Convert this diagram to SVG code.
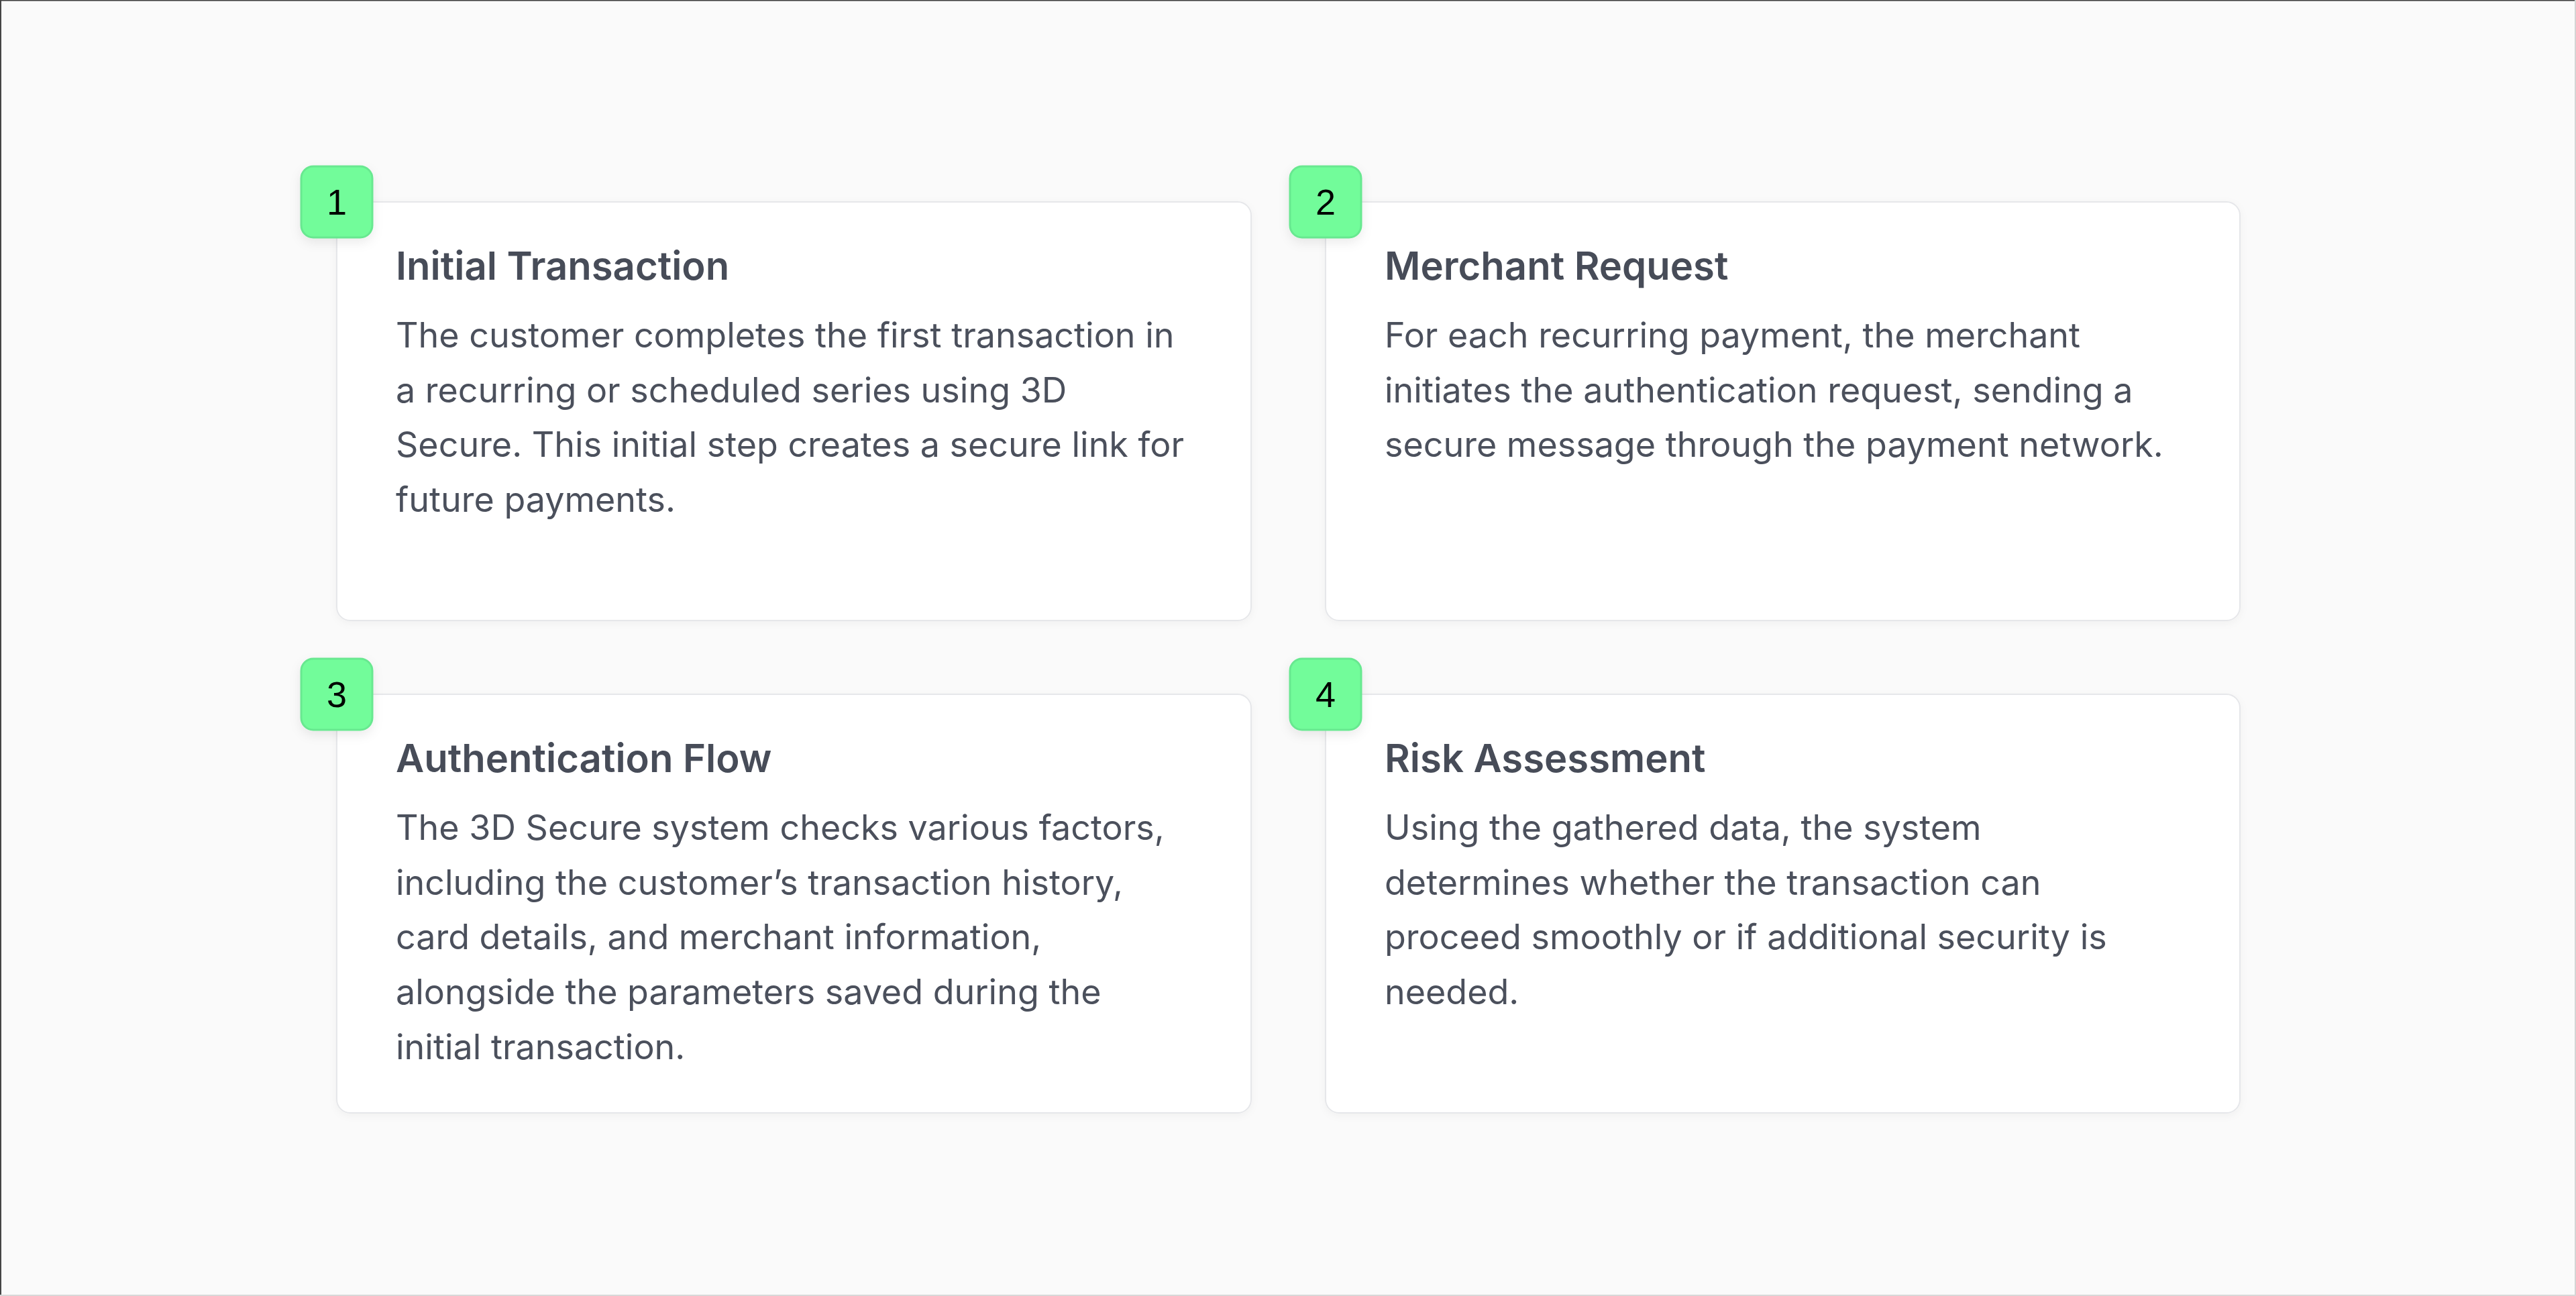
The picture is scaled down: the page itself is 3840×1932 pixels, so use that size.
<svg xmlns="http://www.w3.org/2000/svg" width="3840" height="1932" viewBox="0 0 3840 1932">
<defs>
<filter id="cardShadow" x="-5%" y="-5%" width="110%" height="115%">
<feDropShadow dx="0" dy="3" stdDeviation="6" flood-color="#000" flood-opacity="0.04"/>
</filter>
<filter id="badgeShadow" x="-30%" y="-30%" width="160%" height="160%">
<feDropShadow dx="0" dy="6" stdDeviation="8" flood-color="#000" flood-opacity="0.08"/>
</filter>
</defs>
<style>
.card{fill:#ffffff;stroke:#e6e7ea;stroke-width:2;filter:url(#cardShadow);}
.badge{fill:#72fc9a;stroke:#68e890;stroke-width:3;filter:url(#badgeShadow);}
.num{font-family:"Liberation Sans",Arial,sans-serif;font-size:54px;fill:#000;text-anchor:middle;}
.title{font-family:Inter,"Noto Sans",sans-serif;font-weight:600;font-size:58px;fill:#474c58;}
.body{font-family:Inter,"Noto Sans",sans-serif;font-weight:400;font-size:52px;fill:#4b505c;}
</style>
<rect x="0" y="0" width="3840" height="1932" fill="#fafafa"/>
<rect x="0" y="0" width="3840" height="1.5" fill="#3c3c3c"/>
<rect x="0" y="0" width="2" height="1932" fill="#454545"/>
<rect x="3838" y="0" width="2" height="1932" fill="#d4d4d4"/>
<rect x="0" y="1930" width="3840" height="2" fill="#d8d8d8"/>

<g id="connectors"></g>

<g id="step1">
<rect class="card" x="502" y="301" width="1363" height="624" rx="20"/>
<text class="title" x="590" y="417">Initial Transaction</text>
<text class="body" x="590" y="518">The customer completes the first transaction in</text>
<text class="body" x="590" y="600">a recurring or scheduled series using 3D</text>
<text class="body" x="590" y="681">Secure. This initial step creates a secure link for</text>
<text class="body" x="590" y="763">future payments.</text>
<rect class="badge" x="449" y="248" width="106" height="106" rx="18"/>
<text class="num" x="502" y="320">1</text>
</g>

<g id="step2">
<rect class="card" x="1976" y="301" width="1363" height="624" rx="20"/>
<text class="title" x="2064" y="417">Merchant Request</text>
<text class="body" x="2064" y="518">For each recurring payment, the merchant</text>
<text class="body" x="2064" y="600">initiates the authentication request, sending a</text>
<text class="body" x="2064" y="681">secure message through the payment network.</text>
<rect class="badge" x="1923" y="248" width="106" height="106" rx="18"/>
<text class="num" x="1976" y="320">2</text>
</g>

<g id="step3">
<rect class="card" x="502" y="1035" width="1363" height="624" rx="20"/>
<text class="title" x="590" y="1151">Authentication Flow</text>
<text class="body" x="590" y="1252">The 3D Secure system checks various factors,</text>
<text class="body" x="590" y="1334">including the customer’s transaction history,</text>
<text class="body" x="590" y="1415">card details, and merchant information,</text>
<text class="body" x="590" y="1497">alongside the parameters saved during the</text>
<text class="body" x="590" y="1579">initial transaction.</text>
<rect class="badge" x="449" y="982" width="106" height="106" rx="18"/>
<text class="num" x="502" y="1054">3</text>
</g>

<g id="step4">
<rect class="card" x="1976" y="1035" width="1363" height="624" rx="20"/>
<text class="title" x="2064" y="1151">Risk Assessment</text>
<text class="body" x="2064" y="1252">Using the gathered data, the system</text>
<text class="body" x="2064" y="1334">determines whether the transaction can</text>
<text class="body" x="2064" y="1415">proceed smoothly or if additional security is</text>
<text class="body" x="2064" y="1497">needed.</text>
<rect class="badge" x="1923" y="982" width="106" height="106" rx="18"/>
<text class="num" x="1976" y="1054">4</text>
</g>
</svg>
